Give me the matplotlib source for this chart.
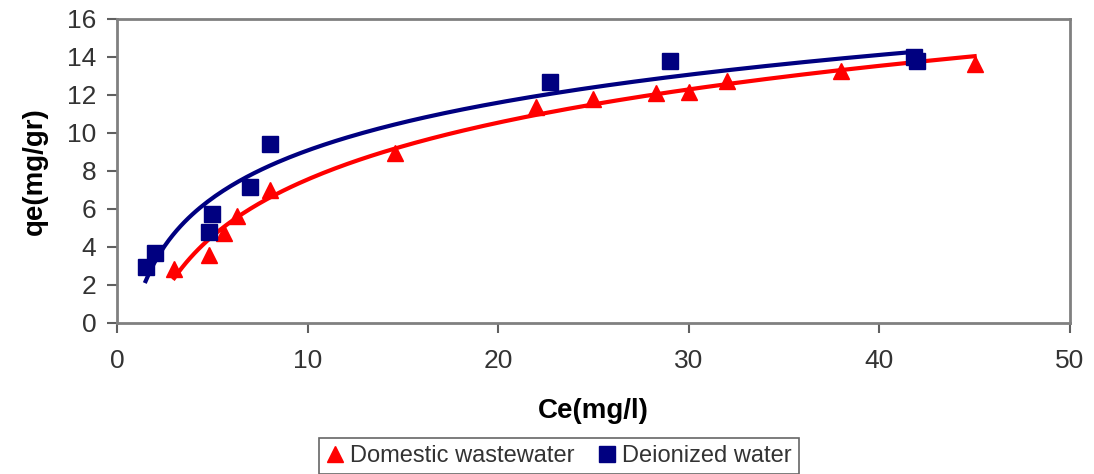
import numpy as np
import matplotlib
matplotlib.use("Agg")
import matplotlib.pyplot as plt

plt.rcParams['font.family'] = ['Liberation Sans', 'DejaVu Sans']

# Domestic wastewater (red triangles)
ce_dom = [3.0, 4.8, 5.6, 6.3, 8.0, 14.6, 22.0, 25.0, 28.3, 30.0, 32.0, 38.0, 45.0]
qe_dom = [2.85, 3.55, 4.75, 5.65, 7.0, 8.95, 11.35, 11.8, 12.1, 12.15, 12.75, 13.25, 13.65]

# Deionized water (blue squares)
ce_dei = [1.5, 2.0, 4.8, 5.0, 7.0, 8.0, 22.7, 29.0, 41.8, 42.0]
qe_dei = [2.95, 3.65, 4.8, 5.75, 7.15, 9.4, 12.7, 13.8, 14.0, 13.8]

x_ticks = [0, 10, 20, 30, 40, 50]
y_ticks = [0, 2, 4, 6, 8, 10, 12, 14, 16]

red = '#ff0000'
navy = '#000080'
gray_txt = '#333333'

fig = plt.figure(figsize=(10.94, 4.74), dpi=100)
ax = fig.add_axes([0.107, 0.319, 0.871, 0.641])


def log_trend(x, y):
    # excel style logarithmic trendline: y = a*ln(x) + b
    a, b = np.polyfit(np.log(x), y, 1)
    xs = np.linspace(min(x), max(x), 200)
    return xs, a * np.log(xs) + b


xs, ys = log_trend(ce_dom, qe_dom)
ax.plot(xs, ys, color=red, lw=3, zorder=2)
xs, ys = log_trend(ce_dei, qe_dei)
ax.plot(xs, ys, color=navy, lw=3, zorder=2)

ax.plot(ce_dom, qe_dom, linestyle='none', marker='^', markersize=12,
        color=red, label='Domestic wastewater', zorder=3)
ax.plot(ce_dei, qe_dei, linestyle='none', marker='s', markersize=12,
        color=navy, label='Deionized water', zorder=3)

ax.set_xlim(0, 50)
ax.set_ylim(0, 16)
ax.set_xticks(x_ticks)
ax.set_yticks(y_ticks)

for s in ax.spines.values():
    s.set_color('#808080')
    s.set_linewidth(2)
ax.tick_params(axis='both', direction='out', length=7, width=1.5,
               color='#606060', labelsize=19, labelcolor=gray_txt)
ax.tick_params(axis='x', pad=12)
ax.tick_params(axis='y', pad=8)

ax.set_xlabel('Ce(mg/l)', fontsize=20, fontweight='bold', color='black', labelpad=18)
ax.set_ylabel('qe(mg/gr)', fontsize=20, fontweight='bold', color='black', labelpad=14)

leg = fig.legend(loc='lower center', bbox_to_anchor=(0.511, -0.025), ncol=2,
                 fontsize=17, frameon=True, fancybox=False, handlelength=0.7,
                 handletextpad=0.3, columnspacing=1.0, borderpad=0.3,
                 markerscale=1.0)
leg.get_frame().set_edgecolor('#404040')
leg.get_frame().set_linewidth(1.2)
for t in leg.get_texts():
    t.set_color(gray_txt)

fig.savefig('out.png', dpi=100)
